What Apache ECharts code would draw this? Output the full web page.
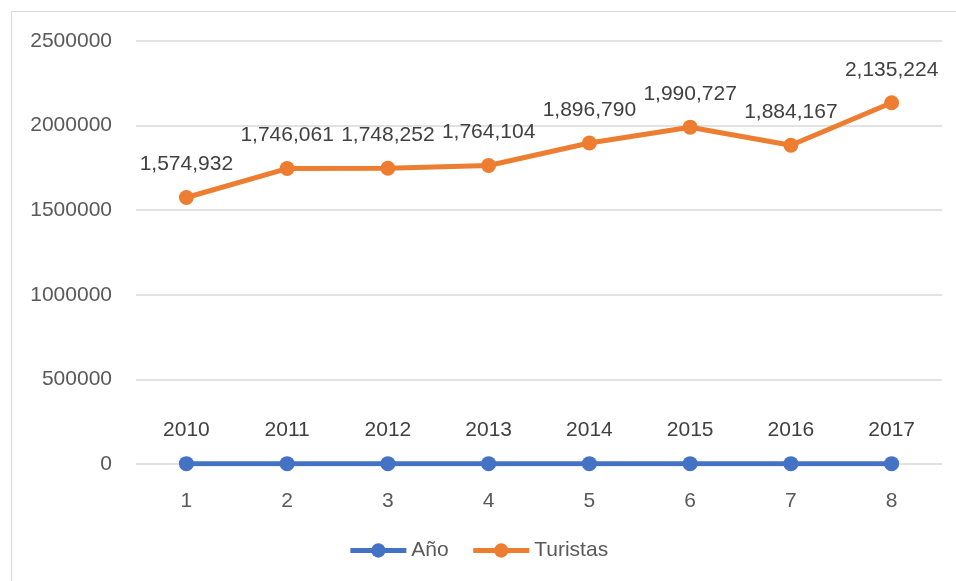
<!DOCTYPE html>
<html>
<head>
<meta charset="utf-8">
<script src="https://cdn.jsdelivr.net/npm/echarts@6/dist/echarts.min.js"></script>
<style>
html,body{margin:0;padding:0;background:#fff;}
#frame{position:absolute;left:11px;top:11px;width:960px;height:600px;border:1px solid #d9d9d9;box-sizing:border-box;}
#chart{position:absolute;left:0;top:0;width:956px;height:581px;}
</style>
</head>
<body>
<div id="frame"></div>
<div id="chart"></div>
<script>
const categories = ['1','2','3','4','5','6','7','8'];
const anio = [2010, 2011, 2012, 2013, 2014, 2015, 2016, 2017];
const turistas = [1574932, 1746061, 1748252, 1764104, 1896790, 1990727, 1884167, 2135224];
const yTicks = [0, 500000, 1000000, 1500000, 2000000, 2500000];

const FONT = '"Liberation Sans", Arial, sans-serif';
const TXT = '#595959';
const chart = echarts.init(document.getElementById('chart'));
const fmt = v => v.toLocaleString('en-US');
chart.setOption({
  animation: false,
  textStyle: { fontFamily: FONT },
  grid: { left: 136, right: 14, top: 41, bottom: 117 },
  xAxis: {
    type: 'category',
    data: categories,
    boundaryGap: true,
    axisLine: { show: false },
    axisTick: { show: false },
    axisLabel: { color: TXT, fontSize: 21, fontFamily: FONT, margin: 27 }
  },
  yAxis: {
    type: 'value',
    min: yTicks[0],
    max: yTicks[yTicks.length - 1],
    interval: 500000,
    axisLine: { show: false },
    axisTick: { show: false },
    splitLine: { lineStyle: { color: '#d9d9d9', width: 1.5 } },
    axisLabel: { color: TXT, fontSize: 21, fontFamily: FONT, margin: 24, formatter: v => String(v) }
  },
  legend: {
    bottom: 15,
    left: 'center',
    itemWidth: 56,
    itemHeight: 18,
    itemGap: 22,
    lineStyle: { width: 5 },
    textStyle: { color: TXT, fontSize: 21, fontFamily: FONT },
    data: ['Año', 'Turistas']
  },
  series: [
    {
      name: 'Año', type: 'line', data: anio,
      symbol: 'circle', symbolSize: 15,
      itemStyle: { color: '#4472C4' },
      lineStyle: { color: '#4472C4', width: 5 },
      label: { show: true, position: 'top', distance: 15, color: '#404040', fontSize: 21, fontFamily: FONT, formatter: p => String(p.value) }
    },
    {
      name: 'Turistas', type: 'line', data: turistas,
      symbol: 'circle', symbolSize: 15,
      itemStyle: { color: '#ED7D31' },
      lineStyle: { color: '#ED7D31', width: 5 },
      label: { show: true, position: 'top', distance: 15, color: '#404040', fontSize: 21, fontFamily: FONT, formatter: p => fmt(p.value) }
    }
  ]
});
</script>
</body>
</html>
